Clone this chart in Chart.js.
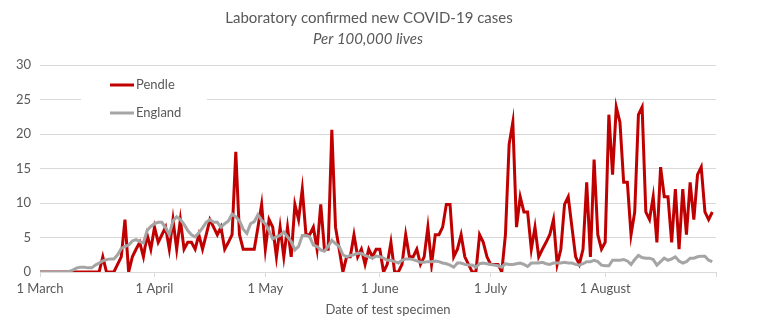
<!DOCTYPE html>
<html>
<head>
<meta charset="utf-8">
<script src="https://cdn.jsdelivr.net/npm/chart.js@4"></script>
<style>
  html, body { margin: 0; padding: 0; background: #ffffff; }
  #wrap { width: 770px; height: 332px; position: relative; }
</style>
</head>
<body>
<div id="wrap"><canvas id="c" width="770" height="332"></canvas></div>
<script>
// ---- Data ----
const chartTitle = 'Laboratory confirmed new COVID-19 cases';
const chartSubtitle = 'Per 100,000 lives';
const xAxisTitle = 'Date of test specimen';
const seriesNames = ['Pendle', 'England'];
const startDate = '2020-03-01';
const endDate = '2020-08-31';
const tickDates = ['2020-03-01', '2020-04-01', '2020-05-01', '2020-06-01', '2020-07-01', '2020-08-01'];
const tickLabels = ['1 March', '1 April', '1 May', '1 June', '1 July', '1 August'];
const yTicks = [0, 5, 10, 15, 20, 25, 30];

// Daily values from 1 March (per 100,000)
const pendle = [
  0,0,0,0,0,0,0,0,0,0,
  0,0,0,0,0,0,0,2.2,0,0,
  0,1.1,2.2,7.6,0,2.2,3.3,4.3,2.2,5.4,
  3.3,6.5,4.3,5.4,6.5,3.3,7.6,3.3,7.6,3.3,
  4.3,4.3,3.3,5.4,3.3,5.4,7.6,6.5,5.4,6.5,
  3.3,4.3,5.4,17.4,5.4,3.3,3.3,3.3,3.3,6.5,
  9.8,3.3,7.6,6.5,2.2,6.5,2.2,6.5,2.2,9.8,
  7.6,12.0,5.4,5.4,6.5,3.3,9.8,3.3,3.3,20.6,
  6.5,3.3,0,2.2,2.2,5.4,2.2,3.3,1.1,3.3,
  2.2,3.3,3.3,0,1.1,4.3,0,0,1.1,5.4,
  2.2,2.2,3.3,1.1,2.2,6.5,1.1,5.4,5.4,6.5,
  9.8,9.8,2.2,3.3,5.4,2.2,1.1,0,0,5.4,
  4.3,2.2,1.1,1.1,1.1,0,5.4,18.5,21.7,6.5,
  10.9,8.7,8.7,3.3,6.5,2.2,3.3,4.3,5.4,7.6,
  1.1,3.3,9.8,10.9,6.5,2.2,1.1,3.3,13.0,2.2,
  16.3,5.4,3.3,4.3,22.8,14.1,23.9,21.7,13.0,13.0,
  5.4,8.7,22.8,23.9,8.7,7.6,10.9,4.3,15.2,10.9,
  10.9,4.3,12.0,3.3,12.0,5.4,13.0,7.6,14.1,15.2,
  8.7,7.6,8.7
];
const england = [
  0,0,0,0,0,0,0,0,0.1,0.3,
  0.6,0.7,0.7,0.6,0.6,1.0,1.3,1.6,1.8,1.9,
  1.9,2.5,3.4,3.7,3.9,4.5,4.7,4.4,4.2,6.0,
  6.6,7.0,7.2,7.2,6.4,5.4,7.4,8.0,7.6,6.9,
  6.0,5.4,5.1,5.7,6.4,7.2,7.6,7.2,7.2,6.5,
  7.0,7.4,8.4,8.0,7.4,6.2,5.6,7.0,7.3,8.3,
  7.5,7.0,6.0,4.8,5.1,5.3,5.8,5.1,4.4,3.2,
  3.7,5.3,5.3,5.1,3.9,3.7,3.2,3.0,3.7,4.6,
  4.1,3.7,2.5,2.2,2.4,2.5,2.7,2.7,2.4,2.2,
  2.0,2.3,2.2,2.0,1.7,1.7,1.5,1.3,1.7,1.9,
  1.9,1.8,1.6,1.4,1.4,1.5,1.5,1.6,1.5,1.3,
  1.2,1.0,0.7,1.3,1.3,1.1,1.0,1.0,0.7,1.2,
  1.3,1.2,1.1,1.0,0.9,0.7,1.2,1.1,1.1,1.2,
  1.3,1.1,0.8,1.3,1.3,1.3,1.4,1.2,1.1,1.3,
  1.3,1.3,1.4,1.3,1.3,1.1,1.0,1.2,1.5,1.5,
  1.7,1.5,1.0,0.9,0.9,1.7,1.7,1.7,1.8,1.6,
  1.1,1.8,2.4,2.1,2.0,2.0,1.8,1.0,1.5,2.0,
  1.7,1.9,2.2,1.6,1.3,1.5,2.0,2.0,2.2,2.3,
  2.3,1.7,1.5
];

// ---- Helpers ----
const DAY = 86400000;
const dayIndex = d => Math.round((Date.parse(d) - Date.parse(startDate)) / DAY);
const tickPositions = tickDates.map(dayIndex);
const xMax = dayIndex(endDate);
const toPoints = arr => arr.map((v, i) => ({ x: i, y: v }));

const FONT = 'Lato, "Open Sans", sans-serif';
const TEXT = '#595959';
const RED = '#C00000';
const GREY = '#A5A5A5';
const GRID = '#D9D9D9';

const overlay = {
  id: 'overlay',
  afterDraw(chart) {
    const ctx = chart.ctx;
    ctx.save();
    ctx.fillStyle = TEXT;
    ctx.textAlign = 'center';
    ctx.textBaseline = 'middle';
    ctx.font = '15px ' + FONT;
    ctx.fillText(chartTitle, 369, 18);
    ctx.font = 'italic 15px ' + FONT;
    ctx.fillText(chartSubtitle, 368, 39);
    ctx.font = '13px ' + FONT;
    ctx.fillText(xAxisTitle, 388, 310);

    // legend inside plot area
    ctx.fillStyle = '#ffffff';
    ctx.fillRect(81, 71, 126, 56);
    const items = [{ name: seriesNames[0], color: RED, y: 85 }, { name: seriesNames[1], color: GREY, y: 113 }];
    items.forEach(it => {
      ctx.strokeStyle = it.color;
      ctx.lineWidth = 3;
      ctx.beginPath();
      ctx.moveTo(110, it.y);
      ctx.lineTo(134, it.y);
      ctx.stroke();
      ctx.fillStyle = TEXT;
      ctx.textAlign = 'left';
      ctx.font = '13px ' + FONT;
      ctx.fillText(it.name, 136, it.y);
    });
    ctx.restore();
  }
};

new Chart(document.getElementById('c'), {
  type: 'line',
  data: {
    datasets: [
      { label: seriesNames[0], data: toPoints(pendle), borderColor: RED, borderWidth: 3,
        pointRadius: 0, tension: 0, order: 1 },
      { label: seriesNames[1], data: toPoints(england), borderColor: GREY, borderWidth: 3,
        pointRadius: 0, tension: 0, order: 0 }
    ]
  },
  options: {
    responsive: false,
    animation: false,
    layout: { padding: { top: 65, left: 0, right: 54, bottom: 0 } },
    plugins: {
      legend: { display: false },
      title: { display: false },
      tooltip: { enabled: false }
    },
    scales: {
      x: {
        type: 'linear',
        min: 0,
        max: xMax,
        afterBuildTicks: s => { s.ticks = tickPositions.concat([xMax]).map(v => ({ value: v })); },
        afterFit: s => { s.height = 60; },
        ticks: {
          autoSkip: false,
          maxRotation: 0,
          padding: 4,
          color: TEXT,
          font: { family: FONT, size: 13 },
          callback: (v) => { const k = tickPositions.indexOf(v); return k >= 0 ? tickLabels[k] : ''; }
        },
        grid: { drawOnChartArea: false, drawTicks: true, tickLength: 5, color: GRID, lineWidth: 1 },
        border: { display: true, color: GRID, width: 1 }
      },
      y: {
        min: 0,
        max: 30,
        afterBuildTicks: s => { s.ticks = yTicks.map(v => ({ value: v })); },
        afterFit: s => { s.width = 40; },
        ticks: { padding: 9, color: TEXT, font: { family: FONT, size: 13 } },
        grid: { color: GRID, lineWidth: 1, drawTicks: false },
        border: { display: false }
      }
    }
  },
  plugins: [overlay]
});
</script>
</body>
</html>
